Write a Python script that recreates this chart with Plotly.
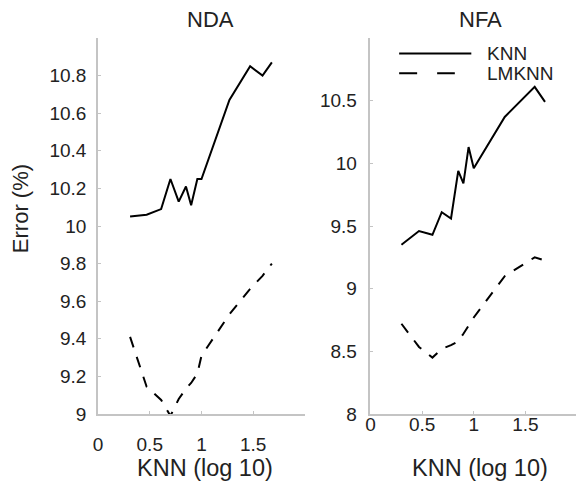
import plotly.graph_objects as go

# log10(K) positions
x_nda = [0.31, 0.47, 0.61, 0.70, 0.78, 0.85, 0.90, 0.96, 1.00, 1.27, 1.47, 1.59, 1.68]
nda_knn = [10.05, 10.06, 10.09, 10.25, 10.13, 10.21, 10.11, 10.25, 10.25, 10.67, 10.85, 10.80, 10.87]
nda_lmknn = [9.41, 9.145, 9.075, 8.99, 9.08, 9.135, 9.165, 9.215, 9.31, 9.53, 9.665, 9.735, 9.80]

x_nfa = [0.30, 0.47, 0.60, 0.69, 0.78, 0.85, 0.90, 0.95, 1.00, 1.30, 1.59, 1.69]
nfa_knn = [9.35, 9.46, 9.43, 9.61, 9.56, 9.94, 9.84, 10.13, 9.96, 10.37, 10.61, 10.49]
nfa_lmknn = [8.72, 8.535, 8.45, 8.52, 8.55, 8.58, 8.64, 8.71, 8.77, 9.10, 9.25, 9.225]

x_ticks = [0, 0.5, 1, 1.5]
x_ticktext = ["0", "0.5", "1", "1.5"]
nda_yticks = [9, 9.2, 9.4, 9.6, 9.8, 10, 10.2, 10.4, 10.6, 10.8]
nda_yticktext = ["9", "9.2", "9.4", "9.6", "9.8", "10", "10.2", "10.4", "10.6", "10.8"]
nfa_yticks = [8, 8.5, 9, 9.5, 10, 10.5]
nfa_yticktext = ["8", "8.5", "9", "9.5", "10", "10.5"]

series_names = ["KNN", "LMKNN"]
panel_titles = ["NDA", "NFA"]
x_title = "KNN (log 10)"
y_title = "Error (%)"

FONT = "Liberation Sans, Arial, sans-serif"
TXT = "#222222"
AX = "#c4c4c4"
DASH = "11px,10px"

fig = go.Figure()
fig.add_trace(go.Scatter(x=x_nda, y=nda_knn, mode="lines", name=series_names[0],
                         line=dict(color="black", width=2), xaxis="x", yaxis="y"))
fig.add_trace(go.Scatter(x=x_nda, y=nda_lmknn, mode="lines", name=series_names[1],
                         line=dict(color="black", width=2, dash=DASH), xaxis="x", yaxis="y"))
fig.add_trace(go.Scatter(x=x_nfa, y=nfa_knn, mode="lines", name=series_names[0],
                         line=dict(color="black", width=2), xaxis="x2", yaxis="y2"))
fig.add_trace(go.Scatter(x=x_nfa, y=nfa_lmknn, mode="lines", name=series_names[1],
                         line=dict(color="black", width=2, dash=DASH), xaxis="x2", yaxis="y2"))

axis_common = dict(showgrid=False, zeroline=False, showline=True, linecolor=AX, linewidth=1.5,
                   ticks="inside", ticklen=3, tickcolor=AX, tickfont=dict(size=19, color=TXT, family=FONT))

fig.update_layout(
    width=576, height=491,
    margin=dict(l=98, r=0, t=38, b=77),
    paper_bgcolor="white", plot_bgcolor="white",
    showlegend=False,
    font=dict(family=FONT, color=TXT),
    xaxis=dict(domain=[0, 0.433], range=[0, 2], tickvals=x_ticks, ticktext=x_ticktext,
               ticklabelstandoff=12, anchor="y", **axis_common),
    yaxis=dict(domain=[0, 1], range=[9, 11], tickvals=nda_yticks, ticktext=nda_yticktext,
               ticklabelstandoff=6, anchor="x", **axis_common),
    xaxis2=dict(domain=[0.570, 1.0], range=[0, 1.99], tickvals=x_ticks, ticktext=x_ticktext,
                ticklabelstandoff=-8, anchor="y2", **axis_common),
    yaxis2=dict(domain=[0, 1], range=[8, 11], tickvals=nfa_yticks, ticktext=nfa_yticktext,
                ticklabelstandoff=8, anchor="x2", **axis_common),
)

ann = []
ann.append(dict(text=panel_titles[0], x=0.236, y=1.0505, xref="paper", yref="paper",
                showarrow=False, xanchor="center", yanchor="middle", font=dict(size=22, color=TXT, family=FONT)))
ann.append(dict(text=panel_titles[1], x=0.801, y=1.0505, xref="paper", yref="paper",
                showarrow=False, xanchor="center", yanchor="middle", font=dict(size=22, color=TXT, family=FONT)))
ann.append(dict(text=x_title, x=0.224, y=-0.1436, xref="paper", yref="paper",
                showarrow=False, xanchor="center", yanchor="middle", font=dict(size=23.5, color=TXT, family=FONT)))
ann.append(dict(text=x_title, x=0.799, y=-0.1436, xref="paper", yref="paper",
                showarrow=False, xanchor="center", yanchor="middle", font=dict(size=23.5, color=TXT, family=FONT)))
ann.append(dict(text=y_title, x=-0.163, y=0.545, xref="paper", yref="paper", textangle=-90,
                showarrow=False, xanchor="center", yanchor="middle", font=dict(size=22, color=TXT, family=FONT)))
# legend text
ann.append(dict(text=series_names[0], x=0.810, y=0.959, xref="paper", yref="paper",
                showarrow=False, xanchor="left", yanchor="middle", font=dict(size=19, color=TXT, family=FONT)))
ann.append(dict(text=series_names[1], x=0.810, y=0.906, xref="paper", yref="paper",
                showarrow=False, xanchor="left", yanchor="middle", font=dict(size=19, color=TXT, family=FONT)))
fig.update_layout(annotations=ann)

# legend line samples
fig.add_shape(type="line", xref="paper", yref="paper", x0=0.630, x1=0.781, y0=0.959, y1=0.959,
              line=dict(color="black", width=2))
fig.add_shape(type="line", xref="paper", yref="paper", x0=0.630, x1=0.7465, y0=0.906, y1=0.906,
              line=dict(color="black", width=2, dash="18px,20px"))

fig.write_html("out.html")
